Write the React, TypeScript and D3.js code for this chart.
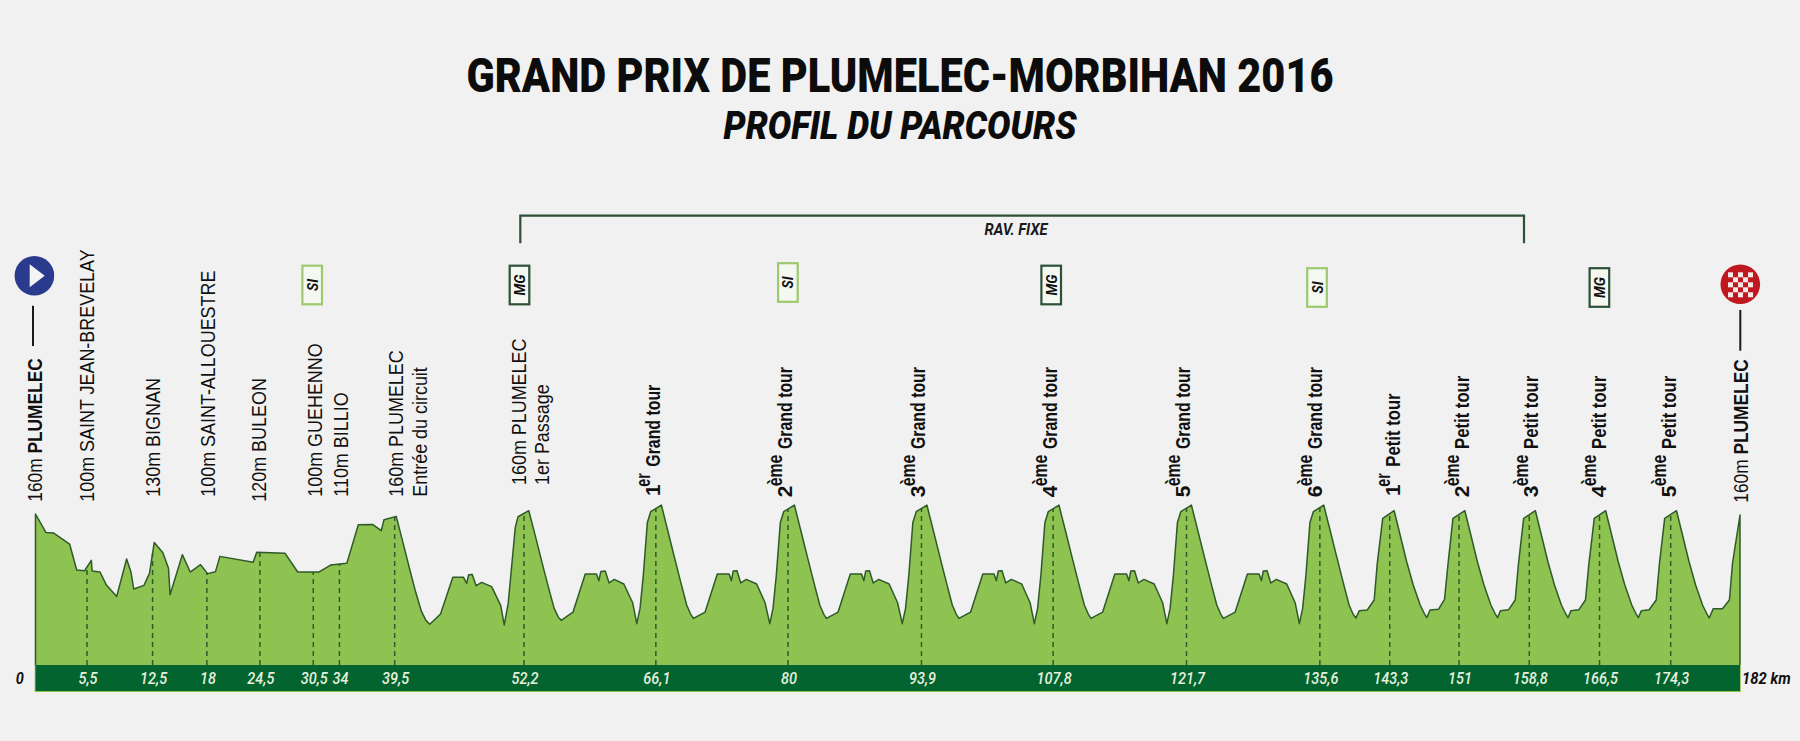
import React from "react";
import * as d3 from "d3";

// --- Data: course profile [km, elevation in m] ---
const approachProfile: [number, number][] = [
  [0, 160], [1.11, 140.5], [1.95, 139.8], [3.64, 128.2], [4.4, 100.6], [5.24, 99.9], [5.96, 110.9], [6.05, 99.6],
  [6.89, 98.5], [7.57, 84.7], [8.67, 72.7], [9.73, 112.3], [10.2, 98.2], [10.49, 80.5], [11.58, 84.4], [12.17, 97.1],
  [12.68, 129.9], [13.6, 119], [14.2, 102.4], [14.37, 74.5], [15.68, 116.9], [16.52, 98.5], [17.62, 106.3],
  [18.38, 96.8], [19.22, 98.9], [19.69, 115.1], [23.24, 108.8], [23.62, 119.4], [26.65, 118.3], [28, 98.5],
  [30.25, 98.5], [31.5, 105.9], [33.24, 107.7], [34.47, 148.7], [35.99, 149], [36.92, 142.3], [37.21, 154],
  [38.52, 157.5], [39.23, 130], [39.94, 102], [40.6, 77], [41.2, 57], [41.7, 47], [42.1, 43.1], [43.25, 54],
  [44.56, 92.9], [45.7, 92.9], [46.04, 86.5], [46.25, 95.7], [46.63, 96], [47.05, 84], [47.64, 87.6], [48.7, 83],
  [49.67, 63.2], [50.05, 42.4], [50.47, 65], [51.23, 145.8], [51.52, 157.1], [52.67, 163.5], [53.39, 136],
  [54.1, 108], [54.75, 83], [55.38, 60], [55.81, 51], [56.13, 47.3], [57.4, 56.1],
];
const grandLap1: [number, number][] = [
  [58.7, 96.4], [59.9, 96.4], [60.15, 89.3], [60.37, 99.2], [60.83, 99.6], [61.25, 86.9], [61.8, 90.7], [62.82, 85.8],
  [63.76, 66], [64.2, 43.8], [64.55, 60], [64.9, 95], [65.33, 151], [65.69, 162.4], [66.83, 169.5], [67.54, 141.2],
  [68.25, 113], [68.9, 87.6], [69.53, 63.6], [69.96, 53.7], [70.25, 49.4], [71.5, 56.1],
];
const grandLap2: [number, number][] = [
  [72.8, 96.4], [74.06, 96.4], [74.3, 89.3], [74.5, 99.6], [74.9, 99.9], [75.3, 86.9], [75.9, 90.7], [77, 85.8],
  [77.9, 66], [78.4, 43.8], [78.75, 60], [79.1, 95], [79.53, 151], [79.89, 162.4], [81.03, 169.5], [81.75, 141.2],
  [82.46, 113], [83.11, 87.6], [83.74, 63.6], [84.17, 53.7], [84.45, 49.4], [85.7, 56.1],
];
const grandLap3: [number, number][] = [
  [87, 96.4], [88.2, 96.4], [88.45, 89.3], [88.65, 99.6], [89.05, 99.9], [89.45, 86.9], [90.05, 90.7], [91.15, 85.8],
  [92.05, 66], [92.55, 43.8], [92.9, 60], [93.25, 95], [93.68, 151], [94.04, 162.4], [95.18, 169.5], [95.9, 141.2],
  [96.61, 113], [97.26, 87.6], [97.89, 63.6], [98.32, 53.7], [98.6, 49.4], [99.85, 56.1],
];
const grandLap4: [number, number][] = [
  [101.15, 96.4], [102.35, 96.4], [102.6, 89.3], [102.8, 99.6], [103.2, 99.9], [103.6, 86.9], [104.2, 90.7],
  [105.3, 85.8], [106.2, 66], [106.65, 43.8], [107, 60], [107.35, 95], [107.78, 151], [108.14, 162.4], [109.28, 169.5],
  [110, 141.2], [110.71, 113], [111.36, 87.6], [111.99, 63.6], [112.42, 53.7], [112.7, 49.4], [113.95, 56.1],
];
const grandLap5: [number, number][] = [
  [115.25, 96.4], [116.5, 96.4], [116.75, 89.3], [116.95, 99.6], [117.35, 99.9], [117.75, 86.9], [118.35, 90.7],
  [119.45, 85.8], [120.35, 66], [120.8, 43.8], [121.15, 60], [121.5, 95], [121.93, 151], [122.29, 162.4], [123.42, 169.5],
  [124.14, 141.2], [124.85, 113], [125.5, 87.6], [126.13, 63.6], [126.56, 53.7], [126.84, 49.4], [128.1, 56.1],
];
const grandLap6: [number, number][] = [
  [129.4, 96.4], [130.65, 96.4], [130.9, 89.3], [131.1, 99.6], [131.5, 99.9], [131.9, 86.9], [132.5, 90.7],
  [133.6, 85.8], [134.5, 66], [134.95, 43.8], [135.3, 60], [135.65, 95], [136.08, 151], [136.44, 162.4], [137.55, 169.5],
];
const petitLaps: [number, number][] = [
  [138.27, 141.2], [138.98, 113], [139.63, 87.6], [140.26, 63.6], [140.69, 53.7], [140.99, 49.8], [141.35, 57.6],
  [142.2, 58.3], [142.94, 68.9], [143.27, 107.7], [143.85, 155.4], [145.07, 163.5],
  [145.71, 137.7], [146.41, 109.4], [147.11, 84.7], [147.85, 63.6], [148.28, 54.8], [148.56, 50.1],
  [148.9, 58.3], [149.8, 59], [150.45, 69.6], [150.83, 107.7], [151.35, 155.4], [152.62, 163.5],
  [153.26, 137.7], [153.96, 109.4], [154.66, 84.7], [155.4, 63.6], [155.83, 54.8], [156.11, 50.1],
  [156.43, 57.6], [157.3, 58.6], [158, 68.9], [158.35, 107.7], [158.9, 155.4], [160.15, 163.5],
  [160.79, 137.7], [161.49, 109.4], [162.19, 84.7], [162.93, 63.6], [163.36, 54.8], [163.64, 50.1],
  [163.95, 57.6], [164.8, 58.6], [165.5, 68.9], [165.87, 107.7], [166.44, 155.4], [167.66, 163.5],
  [168.3, 137.7], [169, 109.4], [169.7, 84.7], [170.44, 63.6], [170.87, 54.8], [171.15, 50.1],
  [171.47, 57.6], [172.3, 58.6], [173.05, 68.9], [173.4, 107.7], [173.96, 155.4], [175.22, 163.5],
  [175.86, 137.7], [176.56, 109.4], [177.26, 84.7], [178, 63.6], [178.43, 54.8], [178.71, 49.8],
  [179.15, 59.7], [180.13, 59.7], [180.87, 68.9], [181.2, 107.7], [182, 158.9],
];
const profile = [...approachProfile, ...grandLap1, ...grandLap2, ...grandLap3, ...grandLap4, ...grandLap5, ...grandLap6, ...petitLaps];

// Dashed markers: where they stand on the drawn axis, and the label printed under them
const markerKm = [5.5, 12.5, 18.3, 23.96, 29.66, 32.45, 38.35, 52.16, 66.24, 80.35, 94.6, 108.66, 122.9, 137.14, 144.6, 152, 159.5, 167, 174.6];
const markerLabels = ["5,5", "12,5", "18", "24,5", "30,5", "34", "39,5", "52,2", "66,1", "80", "93,9", "107,8", "121,7", "135,6", "143,3", "151", "158,8", "166,5", "174,3"];

// Place names
const placeLines = ["160m |PLUMELEC", "100m SAINT JEAN-BREVELAY", "130m BIGNAN", "100m SAINT-ALLOUESTRE", "120m BULEON", "100m GUEHENNO", "110m BILLIO", "160m PLUMELEC", "Entrée du circuit", "160m PLUMELEC", "1er Passage", "160m |PLUMELEC"];
const placeX = [41.5, 93.7, 160, 214.7, 266, 321.5, 347.6, 403.3, 426.6, 526, 549.3, 1748.2];
const placeBottom = [501.7, 501.7, 496.7, 496.7, 501.7, 496.7, 496.7, 496.7, 496.7, 485, 485, 502.7];

// Laps
const lapNumbers = ["1", "2", "3", "4", "5", "6", "1", "2", "3", "4", "5"];
const lapSuffix = ["er", "ème", "ème", "ème", "ème", "ème", "er", "ème", "ème", "ème", "ème"];
const lapNames = ["Grand tour", "Grand tour", "Grand tour", "Grand tour", "Grand tour", "Grand tour", "Petit tour", "Petit tour", "Petit tour", "Petit tour", "Petit tour"];
const lapX = [659.5, 792.4, 924.8, 1057.3, 1189.9, 1322.3, 1399.5, 1468.6, 1537.8, 1606.3, 1676.2];

// Sprint and mountain badges
const badgeType = ["SI", "MG", "SI", "MG", "SI", "MG"];
const badgeX = [312.2, 519.5, 787.9, 1051.2, 1317, 1599.4];
const badgeY = [285, 285, 282.5, 285, 287.5, 287.5];

const checkerRows = [0, 1, 2, 3, 4];

const W = 1800;
const H = 741;
const BG = "#f1f1f1";
const FILL = "#8fc351";
const OUTLINE = "#2f5a2a";
const BAND = "#03642f";
const DARK = "#2c5136";
const LIGHT = "#9cc96d";
const SANS = "'Liberation Sans', Arial, sans-serif";
const COND = "Roboto, sans-serif";
const PLACE_SQUEEZE = 0.92;
const TICK_SQUEEZE = 0.88;

const x = d3.scaleLinear().domain([0, 182]).range([35.5, 1740]);
const y = d3.scaleLinear().domain([0, 160]).range([665, 514]);

const areaPath = d3.area<[number, number]>().x((d) => x(d[0])).y0(y(0)).y1((d) => y(d[1]))(profile) as string;
const linePath = d3.line<[number, number]>().x((d) => x(d[0])).y((d) => y(d[1]))(profile) as string;
const elevationAt = (km: number) => {
  const i = d3.bisector<[number, number], number>((d) => d[0]).left(profile, km);
  const a = profile[Math.max(0, i - 1)];
  const b = profile[Math.min(profile.length - 1, i)];
  return b[0] === a[0] ? a[1] : a[1] + ((b[1] - a[1]) * (km - a[0])) / (b[0] - a[0]);
};

const Vertical = ({ px, bottom, squeeze = 1, children, ...rest }: any) => (
  <text transform={`translate(${px},${bottom}) rotate(-90) scale(${squeeze},1)`} fontFamily={SANS} fontSize={18} fill="#111" {...rest}>
    {children}
  </text>
);

export default function App() {
  return (
    <svg width={W} height={H} viewBox={`0 0 ${W} ${H}`} style={{ position: "absolute", left: 0, top: 0, display: "block" }}>
      <rect width={W} height={H} fill={BG} />

      <text x={900} y={92} textAnchor="middle" fontFamily={COND} fontWeight={900} fontSize={49} textLength={867} lengthAdjust="spacingAndGlyphs" fill="#0c0c0c">
        GRAND PRIX DE PLUMELEC-MORBIHAN 2016
      </text>
      <text x={900} y={139.3} textAnchor="middle" fontFamily={COND} fontWeight={900} fontStyle="italic" fontSize={39.5} textLength={353} lengthAdjust="spacingAndGlyphs" fill="#0c0c0c">
        PROFIL DU PARCOURS
      </text>

      <path d="M520.3,243.3V215.7H1524V243.3" fill="none" stroke={DARK} strokeWidth={2.2} />
      <text x={1016} y={235} textAnchor="middle" fontFamily={COND} fontWeight={700} fontStyle="italic" fontSize={16.5} textLength={63} lengthAdjust="spacingAndGlyphs" fill="#1a1a1a">
        RAV. FIXE
      </text>

      {badgeType.map((t, i) => (
        <g key={i} transform={`translate(${badgeX[i]},${badgeY[i]})`}>
          <rect x={-9.8} y={-19.3} width={19.6} height={38.6} fill="#f4f8f1" stroke={t === "SI" ? LIGHT : DARK} strokeWidth={2.2} />
          <text transform="rotate(-90)" textAnchor="middle" y={5.5} fontFamily={COND} fontWeight={700} fontStyle="italic" fontSize={15.5} textLength={t === "SI" ? 12 : 21} lengthAdjust="spacingAndGlyphs" fill="#111">
            {t}
          </text>
        </g>
      ))}

      {placeLines.map((t, i) => {
        const [a, b] = t.split("|");
        return (
          <Vertical key={i} px={placeX[i]} bottom={placeBottom[i]} squeeze={PLACE_SQUEEZE} fontSize={19.5} textLength={b ? 143.4 / PLACE_SQUEEZE : undefined} lengthAdjust="spacingAndGlyphs">
            {a}
            {b ? <tspan fontWeight={700}>{b}</tspan> : null}
          </Vertical>
        );
      })}

      {lapX.map((px, i) => {
        const first = lapSuffix[i] === "er";
        return (
          <Vertical key={i} px={px} bottom={first ? 496 : 497.3} fontWeight={700} fontSize={21}>
            {lapNumbers[i]}
            <tspan x={first ? 9.3 : 11} dy={-10} fontSize={21} textLength={first ? 13.4 : 31.7} lengthAdjust="spacingAndGlyphs">{lapSuffix[i]}</tspan>
            <tspan x={first ? 29.3 : 48.3} dy={10} fontSize={20} textLength={lapNames[i] === "Grand tour" ? 82 : 73.3} lengthAdjust="spacingAndGlyphs">{lapNames[i]}</tspan>
          </Vertical>
        );
      })}

      {/* start marker */}
      <circle cx={34.4} cy={275.7} r={19.8} fill="#2a3a8d" />
      <path d="M29.7,264.3L44.7,275.8L29.7,287.3Z" fill="#f4f4f4" />
      <line x1={33} x2={33} y1={305.7} y2={346} stroke="#1a1a1a" strokeWidth={2} />

      {/* finish marker */}
      <circle cx={1740.3} cy={284.3} r={19.8} fill="#c0181f" />
      {checkerRows.map((r) =>
        checkerRows.map((c) =>
          (r + c) % 2 === 0 ? <rect key={`${r}-${c}`} x={1728 + c * 5} y={272.3 + r * 5} width={5} height={5} fill="#f6e8e6" /> : null
        )
      )}
      <line x1={1740.3} x2={1740.3} y1={310} y2={350.7} stroke="#1a1a1a" strokeWidth={2} />

      {/* profile */}
      <path d={areaPath} fill={FILL} />
      <path d={`M${x(0)},${y(0)}L${linePath.slice(1)}L${x(182)},${y(0)}`} fill="none" stroke={OUTLINE} strokeWidth={1.5} strokeLinejoin="round" />

      {markerKm.map((km, i) => (
        <line key={i} x1={x(km)} x2={x(km)} y1={y(0)} y2={y(elevationAt(km))} stroke={OUTLINE} strokeWidth={1.5} strokeDasharray="5 4" />
      ))}

      {/* distance band */}
      <rect x={x(0) - 0.8} y={y(0)} width={x(182) - x(0) + 1.6} height={27} fill={FILL} />
      <rect x={x(0)} y={y(0)} width={x(182) - x(0)} height={26} fill={BAND} />
      {markerLabels.map((t, i) => (
        <text key={i} transform={`translate(${x(markerKm[i]) + 1},684) scale(${TICK_SQUEEZE},1)`} textAnchor="middle" fontFamily={COND} fontStyle="italic" fontWeight={500} fontSize={16.5} fill="#e6f0dd">
          {t}
        </text>
      ))}
      <text transform={`translate(19.8,684) scale(${TICK_SQUEEZE},1)`} textAnchor="middle" fontFamily={COND} fontStyle="italic" fontWeight={700} fontSize={16.5} fill="#111">0</text>
      <text x={1742} y={684} fontFamily={COND} fontStyle="italic" fontWeight={700} fontSize={16.5} textLength={48.6} lengthAdjust="spacingAndGlyphs" fill="#111">182 km</text>
    </svg>
  );
}
